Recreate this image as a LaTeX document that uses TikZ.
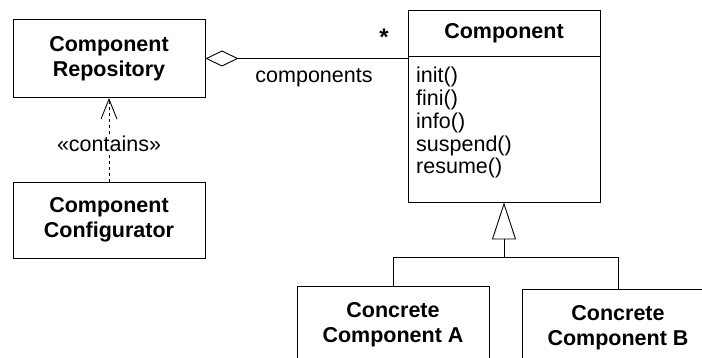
\documentclass[tikz,border=0pt]{standalone}
\usepackage{fontspec}
\setmainfont{Liberation Sans}
\usetikzlibrary{arrows.meta}

\tikzset{
  classbox/.style={draw, line width=0.9pt, minimum width=192pt, align=center,
    inner sep=0pt, font=\fontsize{21.5}{25}\selectfont\bfseries},
  methodbox/.style={draw, line width=0.9pt, minimum width=192pt, minimum height=146pt,
    inner sep=0pt},
  conn/.style={line width=0.9pt},
  lbl/.style={font=\fontsize{21.5}{25}\selectfont, inner sep=1pt}
}

\begin{document}
\begin{tikzpicture}[x=1pt, y=-1pt]
  \useasboundingbox (0,0) rectangle (702,358);
  \clip (0,0) rectangle (702,358);

  % classes
  \node[classbox, minimum height=78pt] (repo) at (109,58.5) {Component\\Repository};
  \node[classbox, minimum height=76pt] (conf) at (109,220) {Component\\Configurator};
  \node[classbox, minimum height=46pt] (comp) at (504,33) {Component};
  \node[methodbox] (body) at (504,129) {};
  \node[anchor=north west, inner sep=0pt, align=left,
        font=\fontsize{21.5}{22.8}\selectfont] (ops) at (416,67)
        {init()\\fini()\\info()\\suspend()\\resume()};
  \node[classbox, minimum height=78pt] (ca) at (393,325) {Concrete\\Component A};
  \node[classbox, minimum height=78pt] (cb) at (618,328) {Concrete\\Component B};

  % aggregation
  \coordinate (aggend) at (body.west |- repo.east);
  \draw[conn, {Diamond[open, length=33pt, width=16pt]}-] (repo.east) -- (aggend);
  \node[lbl, font=\fontsize{24}{25}\selectfont\bfseries] (star) at (384,37) {*};
  \node[lbl] (role) at (314,78) {components};

  % dependency
  \draw[conn, dash pattern=on 3pt off 3pt, -{Straight Barb[length=20pt, width=16pt]}]
    (conf.north) -- (repo.south)
    node[pos=0.45, lbl, fill=white, inner sep=2pt] (dep) {«contains»};

  % generalization
  \coordinate (junction) at (504,257);
  \draw[conn] (ca.north) |- (junction);
  \draw[conn] (cb.north) |- (junction);
  \draw[conn, -{Triangle[open, length=37pt, width=24pt]}] (junction) -- (body.south);
\end{tikzpicture}
\end{document}
